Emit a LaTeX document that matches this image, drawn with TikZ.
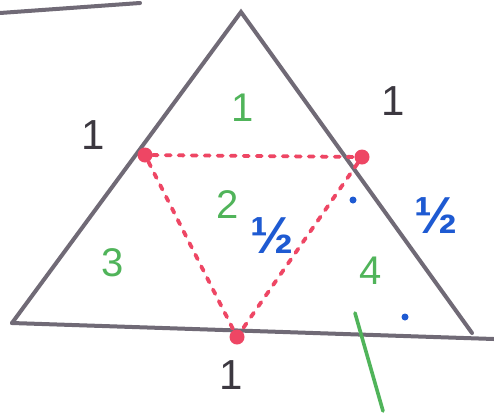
\documentclass[tikz,border=0pt]{standalone}
\usepackage{fontspec}
\setmainfont{Liberation Sans}
\usetikzlibrary{positioning}
\definecolor{PenGray}{RGB}{112,106,118}
\definecolor{InkBlack}{RGB}{60,56,64}
\definecolor{MarkerRed}{RGB}{238,70,100}
\definecolor{MarkerGreen}{RGB}{80,180,90}
\definecolor{MarkerBlue}{RGB}{30,90,210}
\tikzset{
  side/.style={draw=PenGray, line width=4pt, line cap=round},
  midline/.style={draw=MarkerRed, line width=3.8pt, dash pattern=on 5pt off 8pt, line cap=round},
  redpt/.style={circle, fill=MarkerRed, inner sep=0pt, minimum size=15pt},
  bluedot/.style={circle, fill=MarkerBlue, inner sep=0pt, minimum size=7pt},
  sidelen/.style={text=InkBlack, font=\fontsize{42}{42}\selectfont, inner sep=0pt},
  region/.style={text=MarkerGreen, font=\fontsize{40}{40}\selectfont, inner sep=0pt},
  halflen/.style={text=MarkerBlue, font=\fontsize{52}{52}\selectfont\bfseries, inner sep=0pt}
}

\begin{document}
\begin{tikzpicture}[x=1pt, y=-1pt]
  \useasboundingbox[fill=white] (0,0) rectangle (494,416);

  % big triangle
  \coordinate (apex) at (241,12);
  \coordinate (left) at (12,323);
  \coordinate (right) at (472,333);
  \coordinate (lineend) at (494,339);
  \coordinate (stubA) at (0,13);
  \coordinate (stubB) at (140,3);

  \draw[side] (stubA) -- (stubB);
  \draw[side] (left) -- (apex) -- (right);
  \draw[side] (left) -- (lineend);

  % midpoints and the inner triangle
  \node[redpt] (mL) at (145,155) {};
  \node[redpt] (mR) at (362,157) {};
  \node[redpt] (mB) at (237,337) {};

  \draw[midline] (mL) -- (mR);
  \draw[midline] (mL) -- (mB);
  \draw[midline] (mR) -- (mB);

  % side lengths
  \node[sidelen] (lenL) at (93,135) {1};
  \node[sidelen] (lenR) at (393,101) {1};
  \node[sidelen] (lenB) at (231,375) {1};

  % regions
  \node[region] (r1) at (243,108) {1};
  \node[region] (r2) at (228,205) {2};
  \node[region] (r3) at (113,263) {3};
  \node[region] (r4) at (371,271) {4};

  % halves
  \node[halflen] (h1) at (272,236) {½};
  \node[halflen] (h2) at (436,216) {½};
  \node[bluedot] (d1) at (353,200) {};
  \node[bluedot] (d2) at (405,317) {};

  % green stroke
  \coordinate (gA) at (355,313);
  \coordinate (gB) at (383,411);
  \draw[draw=MarkerGreen, line width=3.6pt, line cap=round] (gA) -- (gB);
\end{tikzpicture}
\end{document}
